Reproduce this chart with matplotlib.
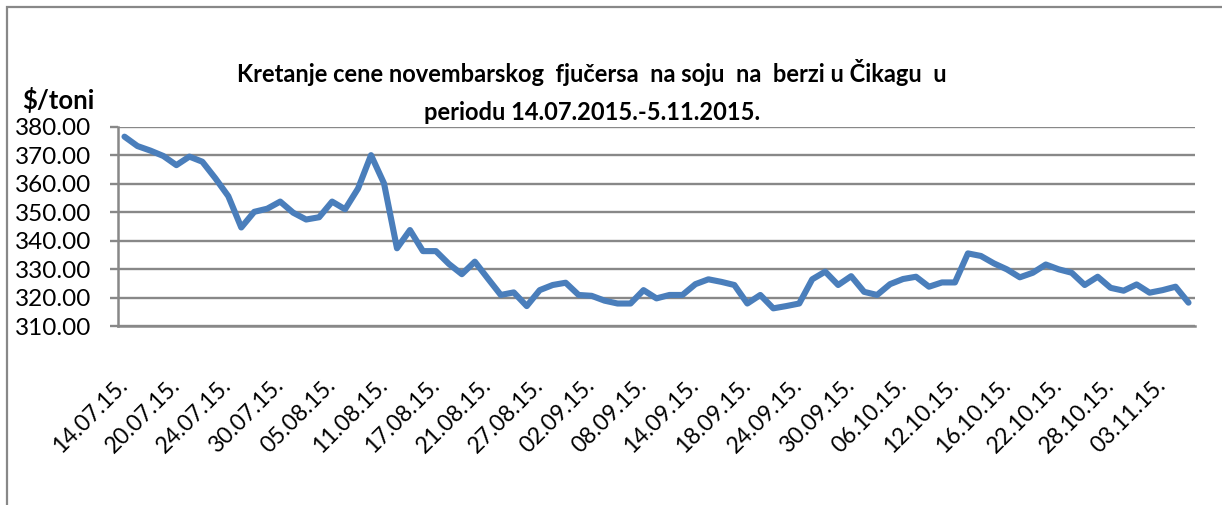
import matplotlib
matplotlib.use("Agg")
import matplotlib.pyplot as plt
from matplotlib.patches import Rectangle
import numpy as np

# soybean November futures, CBOT, $/t, trading days 14.07.2015 - 05.11.2015
prices = [
    376.5, 373.2, 371.6, 369.7, 366.5, 369.5, 367.7, 361.9, 355.6, 344.6,
    350.1, 351.2, 353.7, 349.8, 347.4, 348.2, 353.7, 351.0, 358.3, 370.0,
    360.1, 337.3, 343.7, 336.3, 336.3, 331.8, 328.2, 332.6, 326.7, 320.9,
    321.8, 317.0, 322.6, 324.4, 325.2, 320.9, 320.6, 318.9, 317.9, 317.9,
    322.6, 319.7, 320.9, 320.9, 324.7, 326.4, 325.5, 324.4, 317.9, 320.9,
    316.2, 317.0, 317.9, 326.4, 329.1, 324.4, 327.5, 322.0, 320.9, 324.7,
    326.5, 327.3, 323.8, 325.3, 325.3, 335.5, 334.6, 332.0, 329.9, 327.1,
    328.7, 331.6, 329.9, 328.7, 324.4, 327.3, 323.4, 322.4, 324.6, 321.7,
    322.6, 323.8, 318.2,
]

# every 4th trading day is labelled
tick_labels = [
    "14.07.15.", "20.07.15.", "24.07.15.", "30.07.15.", "05.08.15.",
    "11.08.15.", "17.08.15.", "21.08.15.", "27.08.15.", "02.09.15.",
    "08.09.15.", "14.09.15.", "18.09.15.", "24.09.15.", "30.09.15.",
    "06.10.15.", "12.10.15.", "16.10.15.", "22.10.15.", "28.10.15.",
    "03.11.15.",
]
y_ticks = [310, 320, 330, 340, 350, 360, 370, 380]

title_line1 = "Kretanje cene novembarskog  fjučersa  na soju  na  berzi u Čikagu  u"
title_line2 = "periodu 14.07.2015.-5.11.2015."
y_unit = "$/toni"

# Lato is the closest installed thing to Calibri
plt.rcParams["font.family"] = ["Lato", "DejaVu Sans"]

W, H = 1222, 505
fig = plt.figure(figsize=(W / 100, H / 100), dpi=100)
fig.patch.set_facecolor("white")

# plot area in pixel terms, converted to figure fractions
left, right, top, bottom = 118, 1195, 126.7, 326
ax = fig.add_axes([left / W, 1 - bottom / H, (right - left) / W, (bottom - top) / H])

grey = "#888888"
x = np.arange(len(prices))
ax.plot(x, prices, color="#4A7EBB", lw=4.4, solid_capstyle="round",
        solid_joinstyle="round", zorder=3)

ax.set_xlim(-0.5, len(prices) - 0.5)
ax.set_ylim(y_ticks[0], y_ticks[-1])
ax.set_yticks(y_ticks)
ax.set_yticklabels([f"{v:.2f}" for v in y_ticks], fontsize=17.5)
ax.yaxis.grid(True, color=grey, lw=1.7)
ax.set_axisbelow(True)

ax.set_xticks(x[::4])
ax.set_xticklabels(tick_labels, rotation=45, ha="right", va="center",
                   rotation_mode="anchor", fontsize=16.5)
ax.tick_params(axis="x", length=0, pad=40)
ax.tick_params(axis="y", length=6, width=1.7, color=grey, pad=13)

for side in ["top", "right"]:
    ax.spines[side].set_visible(False)
for side in ["left", "bottom"]:
    ax.spines[side].set_color(grey)
    ax.spines[side].set_linewidth(1.8)

# titles
fig.text(592 / W, 1 - 72 / H, title_line1, ha="center", va="center",
         fontsize=17, fontweight="bold")
fig.text(592 / W, 1 - 112 / H, title_line2, ha="center", va="center",
         fontsize=17, fontweight="bold")
fig.text(22 / W, 1 - 100 / H, y_unit, ha="left", va="center",
         fontsize=18.5, fontweight="bold")

# chart area border (cut off at right and bottom)
fig.add_artist(Rectangle((7 / W, -0.1), 1.2, 1.1 - 7 / H, transform=fig.transFigure,
                         fill=False, edgecolor=grey, lw=1.6))

fig.savefig("out.png", dpi=100)
